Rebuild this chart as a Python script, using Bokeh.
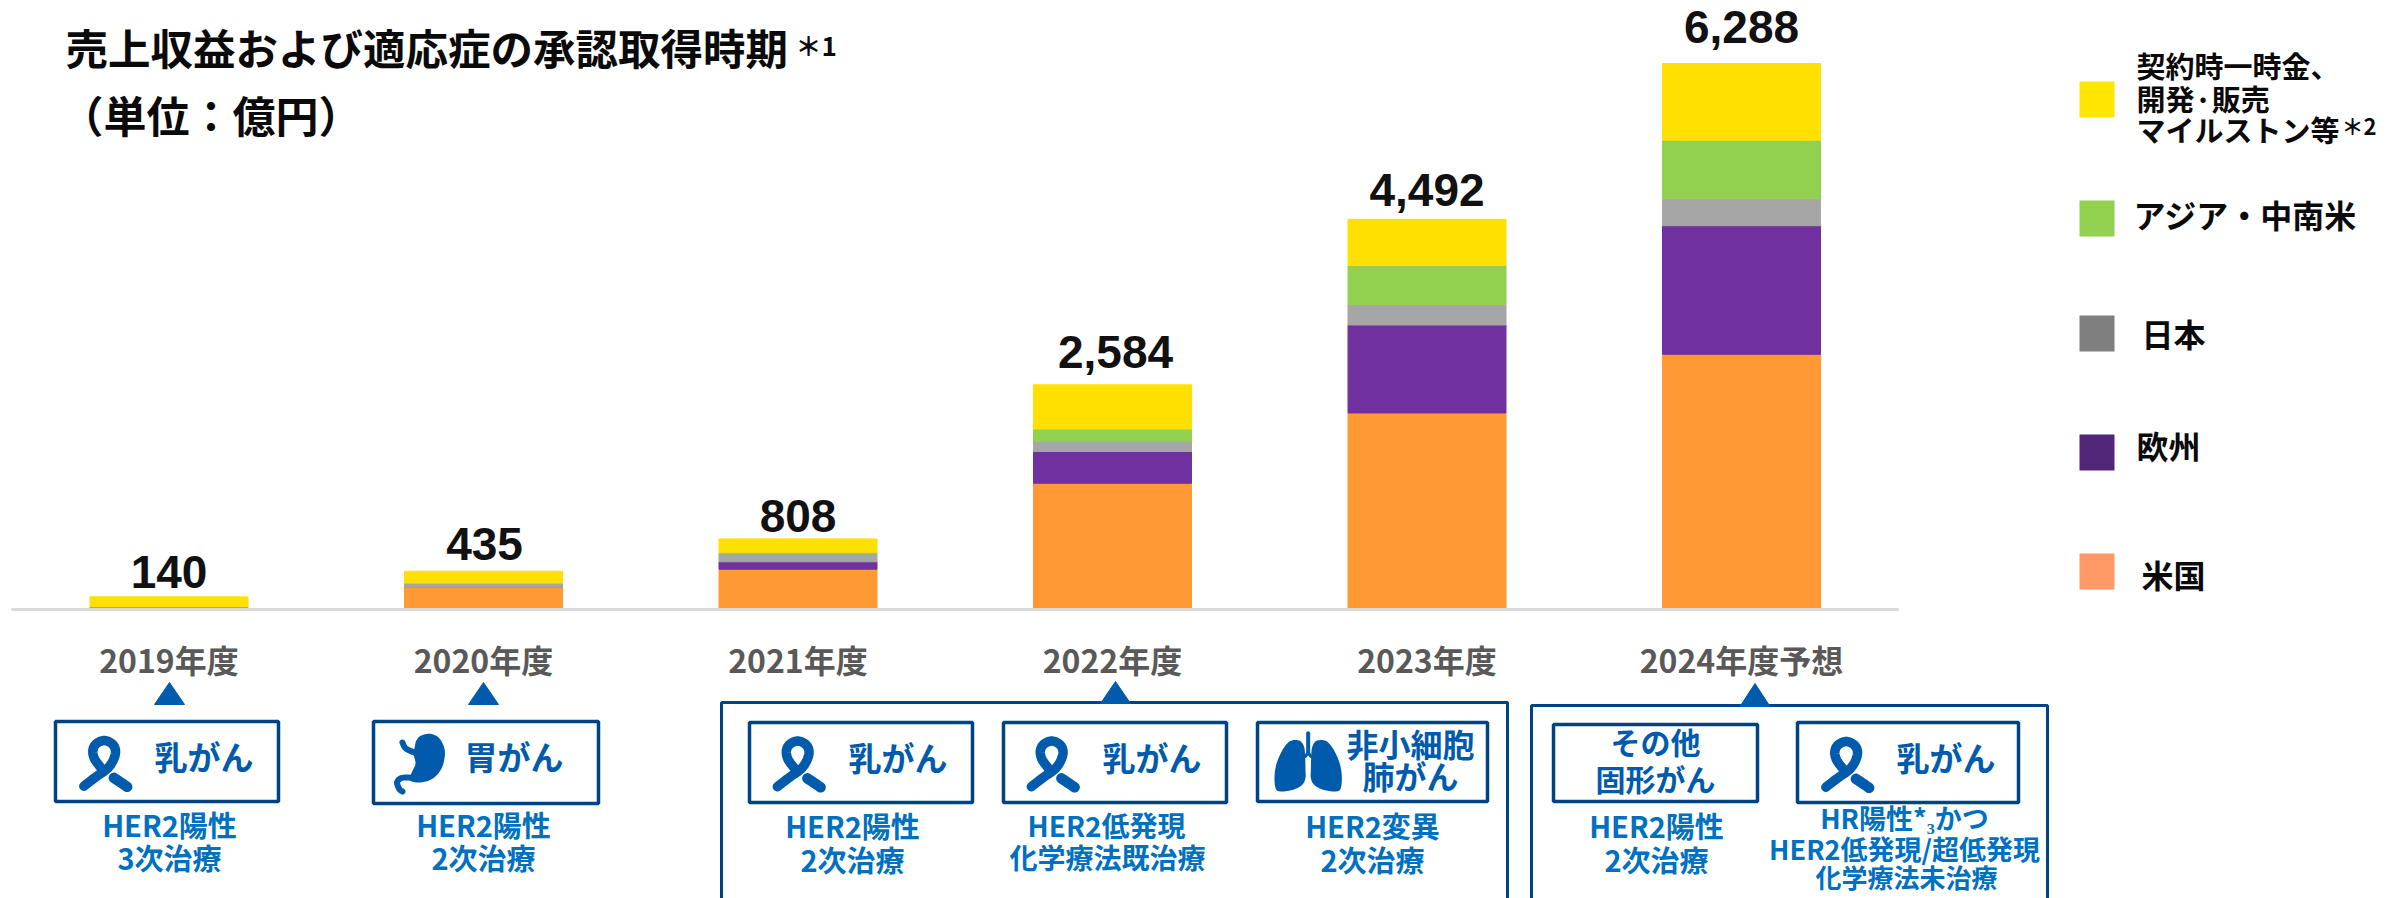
from bokeh.plotting import figure
from bokeh.embed import file_html
from bokeh.resources import INLINE
from bokeh.models import ColumnDataSource, FixedTicker, LinearAxis, Range1d
from bokeh.core.properties import value

# ---------- data (億円) ----------
CATEGORIES = ["2019年度", "2020年度", "2021年度", "2022年度", "2023年度", "2024年度予想"]
TOTALS = [140, 435, 808, 2584, 4492, 6288]
US = [27, 249, 459, 1449, 2260, 2936]
EUROPE = [0, 0, 85, 366, 1014, 1482]
JAPAN = [0, 50, 93, 116, 236, 310]
ASIA = [0, 0, 16, 144, 449, 676]
UPFRONT = [113, 136, 155, 509, 533, 884]
SERIES = ["米国", "欧州", "日本", "アジア・中南米", "契約時一時金等"]
BAR_COLORS = ["#FF9933", "#7030A0", "#A6A6A6", "#92D050", "#FFE000"]
LEGEND_COLORS = ["#FFE600", "#92D050", "#7F7F7F", "#512577", "#FF9966"]

# ---------- layout ----------
W, H = 2395, 898
PAGE = 0
BASE_Y, TOP_Y = 608.5, 63.0
K = (BASE_Y - TOP_Y) / max(TOTALS)
X0, DX = 168.5, 314.5
FONT = value("Noto Sans CJK JP")
NAVY, BLUE, TXT_BLUE = "#004385", "#005BAC", "#0070C0"

p = figure(width=W, height=H, output_backend="svg", toolbar_location=None,
           x_range=Range1d((PAGE - X0) / DX, (PAGE + W - X0) / DX),
           y_range=Range1d(-(PAGE + H - BASE_Y) / K, (BASE_Y - PAGE) / K),
           x_axis_type=None, y_axis_type=None, min_border=0, outline_line_color=None)
p.grid.visible = False
p.background_fill_color = "white"
p.border_fill_color = "white"
p.extra_x_ranges["px"] = Range1d(PAGE, PAGE + W)
p.extra_y_ranges["px"] = Range1d(PAGE + H, PAGE)

idx = list(range(len(CATEGORIES)))
src = ColumnDataSource(dict(x=idx, 米国=US, 欧州=EUROPE, 日本=JAPAN,
                            アジア=ASIA, 一時金=UPFRONT))
p.vbar_stack(["米国", "欧州", "日本", "アジア", "一時金"], x="x", width=158 / DX,
             color=BAR_COLORS, source=src)

axis = LinearAxis(ticker=FixedTicker(ticks=idx),
                  major_label_overrides={i: c for i, c in enumerate(CATEGORIES)},
                  major_tick_line_color=None, minor_tick_line_color=None,
                  axis_line_color="#D9D9D9", axis_line_width=3,
                  major_label_text_font="Noto Sans CJK JP",
                  major_label_text_font_style="bold",
                  major_label_text_font_size="32px",
                  major_label_text_color="#595959",
                  major_label_standoff=21,
                  bounds=(-0.5, 5.5), fixed_location=0)
p.add_layout(axis, "below")

offsets = [25, 27, 23, 33, 29, 37]
nudges = [0, 1, 0, 3, 0, 0]
p.text(x=idx, y=TOTALS, text=[f"{t:,}" for t in TOTALS],
       x_offset=nudges, y_offset=[-o for o in offsets], text_align="center", text_baseline="alphabetic",
       text_font=value("Liberation Sans"), text_font_style="bold", text_font_size="46px",
       text_color="#111111")


def txt(x, y, s, size, color="#0A0A0A", align="center"):
    p.text(x=[x], y=[y - 0.15 * size], text=[s], x_range_name="px", y_range_name="px",
           text_align=align, text_baseline="middle", text_font=FONT,
           text_font_style="bold", text_font_size=f"{size}px", text_color=color)


def box(l, t, r, b, lw=3.5):
    p.quad(left=[l], right=[r], top=[t], bottom=[b], x_range_name="px", y_range_name="px",
           fill_color="white", line_color=NAVY, line_width=lw)


def tri(cx, hw, top, bottom):
    p.patch([cx - hw, cx, cx + hw], [bottom, top, bottom], x_range_name="px", y_range_name="px",
            fill_color=BLUE, line_color=BLUE, line_width=1)


def smooth(pts, n=8):
    out = []
    q = [pts[0]] + pts + [pts[-1]]
    for i in range(1, len(q) - 2):
        a, b, c, d = q[i - 1], q[i], q[i + 1], q[i + 2]
        for j in range(n):
            t = j / n
            out.append(tuple(
                0.5 * (2 * b[k] + (c[k] - a[k]) * t + (2 * a[k] - 5 * b[k] + 4 * c[k] - d[k]) * t ** 2
                       + (3 * b[k] - a[k] - 3 * c[k] + d[k]) * t ** 3) for k in (0, 1)))
    out.append(pts[-1])
    return out


def stroke(pts, ox, oy, w):
    s = smooth(pts)
    p.line([ox + a / 3 for a, _ in s], [oy + b / 3 for _, b in s], x_range_name="px", y_range_name="px",
           line_color=BLUE, line_width=w, line_cap="round", line_join="round")


def blob(pts, ox, oy):
    s = smooth(pts + [pts[0]])
    p.patch([ox + a / 3 for a, _ in s], [oy + b / 3 for _, b in s], x_range_name="px", y_range_name="px",
            fill_color=BLUE, line_color=None)


def ribbon(left, top):
    ox, oy = left - 78 + 70, top - 735 + 725
    stroke([(40, 182), (75, 155), (112, 128), (130, 100), (135, 75), (125, 55), (101, 45),
            (77, 55), (67, 75), (72, 100), (90, 125)], ox, oy, 9.5)
    stroke([(130, 157), (170, 184)], ox, oy, 10.5)


def stomach(ox, oy):
    blob([(106, 62), (120, 46), (150, 40), (175, 52), (190, 78), (193, 105), (185, 140), (165, 168),
          (140, 182), (110, 186), (88, 178), (94, 155), (105, 130), (100, 100)], ox, oy)
    stroke([(66, 66), (76, 84), (102, 96)], ox, oy, 6)
    stroke([(100, 172), (65, 172), (50, 185), (56, 205), (66, 213)], ox, oy, 6)


def lungs(ox, oy):
    left = [(102, 58), (120, 62), (131, 80), (134, 110), (135, 150), (135, 172), (126, 192),
            (100, 207), (62, 213), (46, 205), (42, 170), (48, 130), (65, 90), (84, 65)]
    blob(left, ox, oy)
    blob([(286 - a, b) for a, b in left], ox, oy)
    stroke([(143, 38), (143, 98)], ox, oy, 4)
    stroke([(135, 108), (143, 98), (151, 108)], ox, oy, 3)


# ---------- title ----------
txt(65, 52, "売上収益および適応症の承認取得時期", 42.5, align="left")
txt(795, 48, "＊1", 26, align="left")
txt(60, 120, "（単位：億円）", 43, align="left")

# ---------- legend ----------
for top, col in zip([81, 200, 315, 434, 553], LEGEND_COLORS):
    p.quad(left=[2079], right=[2114], top=[top], bottom=[top + 36], x_range_name="px", y_range_name="px",
           fill_color=col, line_color=None)
txt(2136, 69, "契約時一時金、", 29, align="left")
txt(2136, 102, "開発·販売", 29, align="left")
txt(2136, 133, "マイルストン等", 29, align="left")
txt(2341, 128, "＊2", 22, align="left")
txt(2133, 218, "アジア・中南米", 32, align="left")
txt(2141, 337, "日本", 32, align="left")
txt(2136, 449, "欧州", 32, align="left")
txt(2141, 578, "米国", 32, align="left")

# ---------- 2019 / 2020 ----------
tri(169, 15, 682, 704)
tri(483, 15, 682, 704)
box(55, 721, 278, 801)
box(373, 721, 598, 803)
ribbon(78, 735)
txt(154, 760, "乳がん", 33, BLUE, "left")
stomach(380, 720)
txt(464, 760, "胃がん", 33, BLUE, "left")
txt(169, 828, "HER2陽性", 29, TXT_BLUE)
txt(169, 861, "3次治療", 29, TXT_BLUE)
txt(483, 828, "HER2陽性", 29, TXT_BLUE)
txt(483, 861, "2次治療", 29, TXT_BLUE)

# ---------- 2021-2023 group ----------
box(721, 702, 1507, 930, 3)
tri(1115, 15, 681, 703)
box(749, 722, 972, 802)
box(1003, 722, 1226, 802)
box(1257, 722, 1487, 801)
ribbon(771.5, 735.5)
txt(848, 761, "乳がん", 33, BLUE, "left")
ribbon(1025.5, 735.5)
txt(1102, 761, "乳がん", 33, BLUE, "left")
lungs(1260, 720)
txt(1410, 747, "非小細胞", 32, BLUE)
txt(1410, 779, "肺がん", 32, BLUE)
txt(852, 829, "HER2陽性", 29, TXT_BLUE)
txt(852, 863, "2次治療", 29, TXT_BLUE)
txt(1106, 829, "HER2低発現", 28, TXT_BLUE)
txt(1107, 861, "化学療法既治療", 28, TXT_BLUE)
txt(1372, 829, "HER2変異", 29, TXT_BLUE)
txt(1372, 863, "2次治療", 29, TXT_BLUE)

# ---------- 2024 group ----------
box(1531, 705, 2047, 930, 3)
tri(1754.5, 15, 683, 706)
box(1553, 724, 1757, 801)
box(1797, 722, 2018, 802)
txt(1655, 745, "その他", 30, BLUE)
txt(1655, 782, "固形がん", 30, BLUE)
ribbon(1820, 736)
txt(1896, 761, "乳がん", 33, BLUE, "left")
txt(1656, 829, "HER2陽性", 29, TXT_BLUE)
txt(1656, 863, "2次治療", 29, TXT_BLUE)
txt(1904, 821, "HR陽性*₃かつ", 27, TXT_BLUE)
txt(1904, 852, "HER2低発現/超低発現", 27, TXT_BLUE)
txt(1906, 880, "化学療法未治療", 26, TXT_BLUE)

open("out.html", "w").write(file_html(p, INLINE))
